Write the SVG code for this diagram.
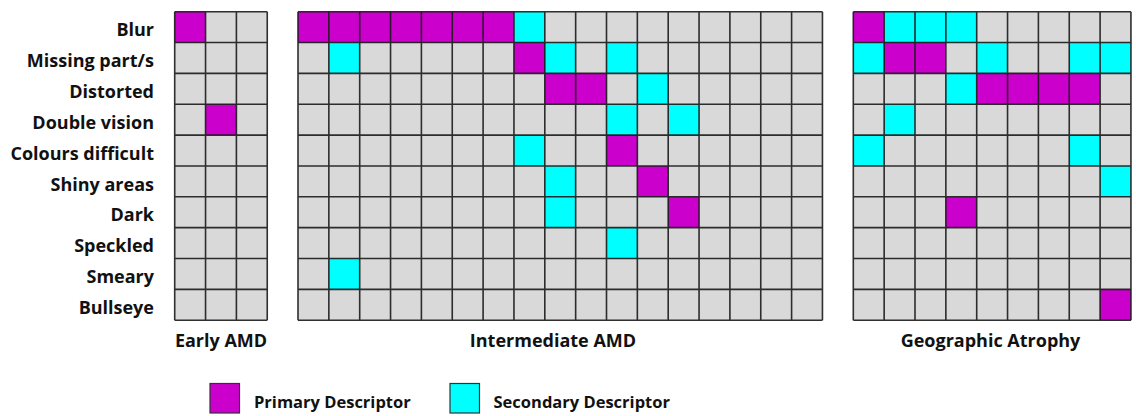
<svg xmlns="http://www.w3.org/2000/svg" width="1136" height="416" viewBox="0 0 1136 416">
<style>
  .bg { fill: #d9d9d9; }
  .p { fill: #cc00cc; }
  .s { fill: #00ffff; }
  .grid { fill: none; stroke: #1a1a1a; stroke-width: 1.6; stroke-opacity: 0.9; }
  .lbl { font-family: "Open Sans", "Liberation Sans", sans-serif; font-weight: bold; font-size: 18px; fill: #111; }
  .ttl { font-family: "Open Sans", "Liberation Sans", sans-serif; font-weight: bold; font-size: 18px; fill: #111; text-anchor: middle; }
  .leg { font-family: "Open Sans", "Liberation Sans", sans-serif; font-weight: bold; font-size: 16.5px; fill: #111; }
  .lb { stroke: #333; stroke-width: 1.2; }
</style>

<g id="row-labels" class="lbl" text-anchor="end">
  <text x="154" y="36.3">Blur</text>
  <text x="154" y="67.1">Missing part/s</text>
  <text x="154" y="98">Distorted</text>
  <text x="154" y="128.8">Double vision</text>
  <text x="154" y="159.7">Colours difficult</text>
  <text x="154" y="190.5">Shiny areas</text>
  <text x="154" y="221.4">Dark</text>
  <text x="154" y="252.2">Speckled</text>
  <text x="154" y="283.1">Smeary</text>
  <text x="154" y="313.9">Bullseye</text>
</g>

<g id="early-amd">
  <rect class="bg" x="174.7" y="11.7" width="92.55" height="308.5"/>
  <rect class="p" x="174.7" y="11.7" width="30.85" height="30.85"/>
  <rect class="p" x="205.55" y="104.25" width="30.85" height="30.85"/>
  <path class="grid" d="M174.7 11.7V320.2M205.55 11.7V320.2M236.4 11.7V320.2M267.25 11.7V320.2
    M174.7 11.7H267.25M174.7 42.55H267.25M174.7 73.4H267.25M174.7 104.25H267.25M174.7 135.1H267.25M174.7 165.95H267.25M174.7 196.8H267.25M174.7 227.65H267.25M174.7 258.5H267.25M174.7 289.35H267.25M174.7 320.2H267.25"/>
  <text class="ttl" x="221" y="346.5">Early AMD</text>
</g>

<g id="intermediate-amd">
  <rect class="bg" x="298" y="11.7" width="524.45" height="308.5"/>
  <rect class="p" x="298" y="11.7" width="215.95" height="30.85"/>
  <rect class="s" x="513.95" y="11.7" width="30.85" height="30.85"/>
  <rect class="s" x="328.85" y="42.55" width="30.85" height="30.85"/>
  <rect class="p" x="513.95" y="42.55" width="30.85" height="30.85"/>
  <rect class="s" x="544.8" y="42.55" width="30.85" height="30.85"/>
  <rect class="s" x="606.5" y="42.55" width="30.85" height="30.85"/>
  <rect class="p" x="544.8" y="73.4" width="61.7" height="30.85"/>
  <rect class="s" x="637.35" y="73.4" width="30.85" height="30.85"/>
  <rect class="s" x="606.5" y="104.25" width="30.85" height="30.85"/>
  <rect class="s" x="668.2" y="104.25" width="30.85" height="30.85"/>
  <rect class="s" x="513.95" y="135.1" width="30.85" height="30.85"/>
  <rect class="p" x="606.5" y="135.1" width="30.85" height="30.85"/>
  <rect class="s" x="544.8" y="165.95" width="30.85" height="30.85"/>
  <rect class="p" x="637.35" y="165.95" width="30.85" height="30.85"/>
  <rect class="s" x="544.8" y="196.8" width="30.85" height="30.85"/>
  <rect class="p" x="668.2" y="196.8" width="30.85" height="30.85"/>
  <rect class="s" x="606.5" y="227.65" width="30.85" height="30.85"/>
  <rect class="s" x="328.85" y="258.5" width="30.85" height="30.85"/>
  <path class="grid" d="M298 11.7V320.2M328.85 11.7V320.2M359.7 11.7V320.2M390.55 11.7V320.2M421.4 11.7V320.2M452.25 11.7V320.2M483.1 11.7V320.2M513.95 11.7V320.2M544.8 11.7V320.2M575.65 11.7V320.2M606.5 11.7V320.2M637.35 11.7V320.2M668.2 11.7V320.2M699.05 11.7V320.2M729.9 11.7V320.2M760.75 11.7V320.2M791.6 11.7V320.2M822.45 11.7V320.2
    M298 11.7H822.45M298 42.55H822.45M298 73.4H822.45M298 104.25H822.45M298 135.1H822.45M298 165.95H822.45M298 196.8H822.45M298 227.65H822.45M298 258.5H822.45M298 289.35H822.45M298 320.2H822.45"/>
  <text class="ttl" x="553" y="346.5">Intermediate AMD</text>
</g>

<g id="geographic-atrophy">
  <rect class="bg" x="853.3" y="11.7" width="277.65" height="308.5"/>
  <rect class="p" x="853.3" y="11.7" width="30.85" height="30.85"/>
  <rect class="s" x="884.15" y="11.7" width="92.55" height="30.85"/>
  <rect class="s" x="853.3" y="42.55" width="30.85" height="30.85"/>
  <rect class="p" x="884.15" y="42.55" width="61.7" height="30.85"/>
  <rect class="s" x="976.7" y="42.55" width="30.85" height="30.85"/>
  <rect class="s" x="1069.25" y="42.55" width="61.7" height="30.85"/>
  <rect class="s" x="945.85" y="73.4" width="30.85" height="30.85"/>
  <rect class="p" x="976.7" y="73.4" width="123.4" height="30.85"/>
  <rect class="s" x="884.15" y="104.25" width="30.85" height="30.85"/>
  <rect class="s" x="853.3" y="135.1" width="30.85" height="30.85"/>
  <rect class="s" x="1069.25" y="135.1" width="30.85" height="30.85"/>
  <rect class="s" x="1100.1" y="165.95" width="30.85" height="30.85"/>
  <rect class="p" x="945.85" y="196.8" width="30.85" height="30.85"/>
  <rect class="p" x="1100.1" y="289.35" width="30.85" height="30.85"/>
  <path class="grid" d="M853.3 11.7V320.2M884.15 11.7V320.2M915 11.7V320.2M945.85 11.7V320.2M976.7 11.7V320.2M1007.55 11.7V320.2M1038.4 11.7V320.2M1069.25 11.7V320.2M1100.1 11.7V320.2M1130.95 11.7V320.2
    M853.3 11.7H1130.95M853.3 42.55H1130.95M853.3 73.4H1130.95M853.3 104.25H1130.95M853.3 135.1H1130.95M853.3 165.95H1130.95M853.3 196.8H1130.95M853.3 227.65H1130.95M853.3 258.5H1130.95M853.3 289.35H1130.95M853.3 320.2H1130.95"/>
  <text class="ttl" x="990.5" y="346.5">Geographic Atrophy</text>
</g>

<g id="legend-primary">
  <rect class="p lb" x="210" y="383.5" width="29.5" height="29.5"/>
  <text class="leg" x="254" y="407.7">Primary Descriptor</text>
</g>
<g id="legend-secondary">
  <rect class="s lb" x="450" y="383.5" width="29.5" height="29.5"/>
  <text class="leg" x="493.5" y="407.7">Secondary Descriptor</text>
</g>
</svg>
